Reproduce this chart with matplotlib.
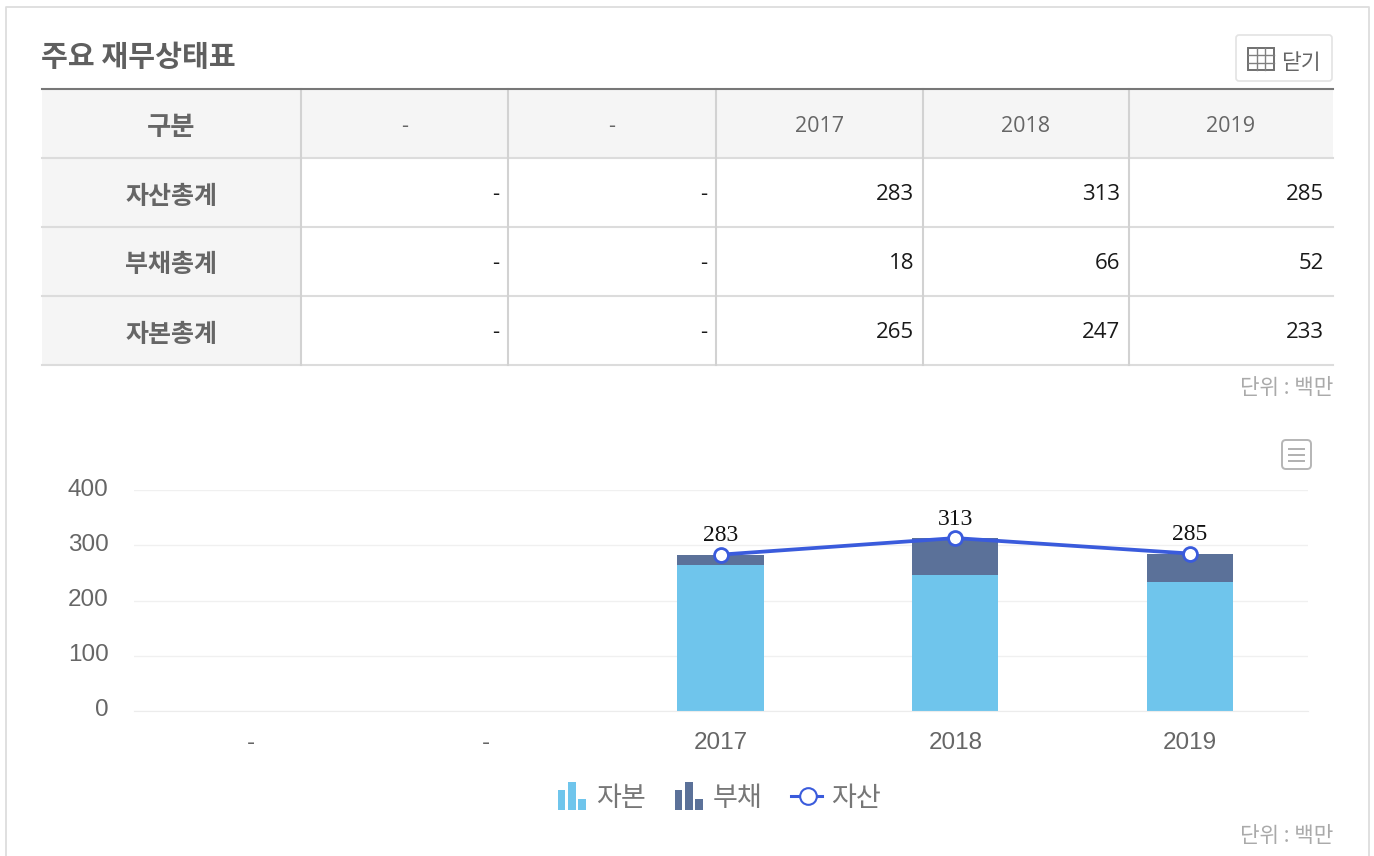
import matplotlib
matplotlib.use("Agg")
import matplotlib.pyplot as plt
from matplotlib.patches import Rectangle, FancyBboxPatch
from matplotlib.transforms import ScaledTranslation
import numpy as np

plt.rcParams["font.family"] = ["Noto Sans CJK KR", "DejaVu Sans"]

# data
categories = ["-", "-", "2017", "2018", "2019"]
row_names = ["자산총계", "부채총계", "자본총계"]
assets = [np.nan, np.nan, 283, 313, 285]
debt = [np.nan, np.nan, 18, 66, 52]
capital = [np.nan, np.nan, 265, 247, 233]
y_ticks = [0, 100, 200, 300, 400]

W, H = 1374, 856
fig = plt.figure(figsize=(W / 100, H / 100), dpi=100)

# pixel canvas for the page parts
page = fig.add_axes([0, 0, 1, 1])
page.set_xlim(0, W)
page.set_ylim(H, 0)
page.axis("off")

# outer card border
page.plot([6, 6, 1369, 1369], [856, 7, 7, 856], color="#dddddd", lw=1.3)

page.text(41, 57, "주요 재무상태표", fontsize=21, fontweight="bold", color="#5f5f5f",
          ha="left", va="center")

# close button
page.add_patch(FancyBboxPatch((1236, 35), 96, 46, boxstyle="round,pad=0,rounding_size=3",
                              fc="white", ec="#e3e3e3", lw=1.2))
page.add_patch(Rectangle((1248, 48), 26, 22, fc="none", ec="#707070", lw=1.4))
for gx in [1256.5, 1265]:
    page.plot([gx, gx], [48, 70], color="#808080", lw=1)
for gy in [55, 62.5]:
    page.plot([1248, 1274], [gy, gy], color="#808080", lw=1)
page.text(1301, 62.5, "닫기", fontsize=15.5, color="#666666", ha="center", va="center")

# table
col_x = [41.5, 301, 508, 716, 923, 1129, 1333]
row_y = [89, 158, 227, 296, 365]
page.add_patch(Rectangle((col_x[0], row_y[0]), col_x[-1] - col_x[0], row_y[1] - row_y[0],
                         fc="#f5f5f5", ec="none"))
page.add_patch(Rectangle((col_x[0], row_y[0]), col_x[1] - col_x[0], row_y[-1] - row_y[0],
                         fc="#f5f5f5", ec="none"))
for y in row_y[1:]:
    page.plot([col_x[0], col_x[-1]], [y, y], color="#dcdcdc", lw=1.5)
for x in col_x[1:-1]:
    page.plot([x, x], [row_y[0], row_y[-1]], color="#d2d2d2", lw=1.5)
page.plot([col_x[0], col_x[-1]], [row_y[0], row_y[0]], color="#777777", lw=1.5)

page.text((col_x[0] + col_x[1]) / 2, 127, "구분", fontsize=19, fontweight="bold",
          color="#666666", ha="center", va="center")
for i, c in enumerate(categories):
    page.text((col_x[i + 1] + col_x[i + 2]) / 2, 126, c, fontsize=15.5, color="#666666",
              ha="center", va="center", fontname="Open Sans")

rows = [assets, debt, capital]
for r, name in enumerate(row_names):
    yc = (row_y[r + 1] + row_y[r + 2]) / 2
    page.text((col_x[0] + col_x[1]) / 2, yc + 4, name, fontsize=18, fontweight="bold",
              color="#666666", ha="center", va="center")
    for i, v in enumerate(rows[r]):
        label = "-" if np.isnan(v) else str(v)
        page.text(col_x[i + 2] - 9, yc + 2, label, fontsize=16, color="#1a1a1a",
                  ha="right", va="center", fontname="Open Sans")

page.text(1333, 388, "단위 : 백만", fontsize=15.3, color="#aaaaaa", ha="right", va="center")
page.text(1333, 836, "단위 : 백만", fontsize=15.3, color="#aaaaaa", ha="right", va="center")

# menu icon
page.add_patch(FancyBboxPatch((1282, 440), 29, 29, boxstyle="round,pad=0,rounding_size=4",
                              fc="white", ec="#b5b5b5", lw=1.4))
for gy in [449, 455, 461]:
    page.plot([1289, 1304], [gy, gy], color="#b0b0b0", lw=1.4)

# chart
left, right, top, bottom = 133.5, 1307.5, 490, 711
ax = fig.add_axes([left / W, 1 - bottom / H, (right - left) / W, (bottom - top) / H])
ax.patch.set_alpha(0)
x = np.arange(len(categories))
ax.bar(x, capital, width=0.367, color="#6fc5ec", zorder=2)
ax.bar(x, debt, width=0.367, bottom=capital, color="#5b7199", zorder=2)
ax.plot(x, assets, color="#3a5bdc", lw=2.7, marker="o", ms=10, mfc="white", mec="#3a5bdc",
        mew=2, zorder=3, clip_on=False)
for xi, v in zip(x, assets):
    if not np.isnan(v):
        ax.annotate(str(v), (xi, v), xytext=(0, 6), textcoords="offset points", ha="center",
                    va="bottom", fontsize=17, color="#111111", fontname="Liberation Serif",
                    zorder=4)
ax.set_xlim(-0.5, 4.5)
ax.set_ylim(0, 400)
ax.set_xticks(x, categories)
ax.set_yticks(y_ticks)
ax.tick_params(length=0)
ax.tick_params(axis="y", pad=18, labelsize=17.5, labelcolor="#666666")
ax.tick_params(axis="x", pad=15.2, labelsize=17.5, labelcolor="#666666")
for lab in ax.get_xticklabels() + ax.get_yticklabels():
    lab.set_fontname("Liberation Sans")
# y labels sit about 3px above their grid lines
up = ScaledTranslation(0, 3 / 100, fig.dpi_scale_trans)
for lab in ax.get_yticklabels():
    lab.set_transform(lab.get_transform() + up)
ax.grid(axis="y", color="#f0f0f0", lw=1, zorder=0)
ax.set_axisbelow(True)
for s in ax.spines.values():
    s.set_visible(False)
ax.spines["bottom"].set_visible(True)
ax.spines["bottom"].set_color("#ececec")

# legend
for x0, col in [(558, "#6fc5ec"), (675, "#5b7199")]:
    page.add_patch(Rectangle((x0, 790), 7, 20, fc=col, ec="none"))
    page.add_patch(Rectangle((x0 + 10, 782), 8, 28, fc=col, ec="none"))
    page.add_patch(Rectangle((x0 + 20, 799), 8, 11, fc=col, ec="none"))
page.plot([791, 822], [796, 796], color="#3a5bdc", lw=2.2)
page.plot([807.5], [796], marker="o", ms=12, mfc="white", mec="#3a5bdc", mew=1.5)
page.text(596, 798, "자본", fontsize=19.5, color="#777777", ha="left", va="center")
page.text(713, 798, "부채", fontsize=19.5, color="#777777", ha="left", va="center")
page.text(831, 798, "자산", fontsize=19.5, color="#777777", ha="left", va="center")

fig.savefig("out.png", dpi=100)
